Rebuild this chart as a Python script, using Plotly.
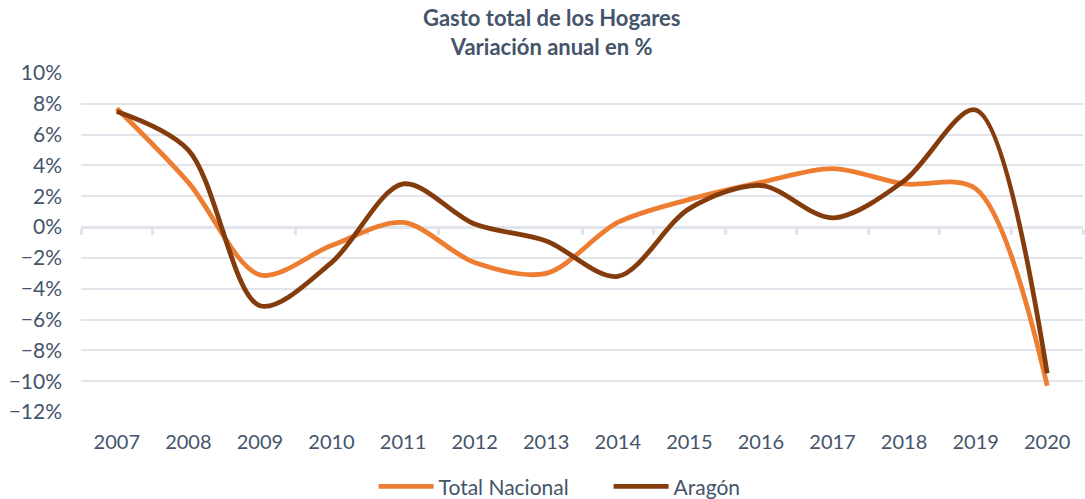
import plotly.graph_objects as go

years = ["2007", "2008", "2009", "2010", "2011", "2012", "2013",
         "2014", "2015", "2016", "2017", "2018", "2019", "2020"]
total_nacional = [7.7, 2.9, -3.1, -1.2, 0.3, -2.3, -3.0,
                  0.3, 1.8, 2.9, 3.8, 2.8, 2.5, -10.3]
aragon = [7.5, 5.0, -5.1, -2.3, 2.8, 0.2, -0.9,
          -3.2, 1.2, 2.7, 0.6, 3.0, 7.6, -9.5]

text_color = "#44546A"
grid_color = "#E1E5EB"
font_family = "Lato, 'Open Sans', sans-serif"

fig = go.Figure()
fig.add_trace(go.Scatter(
    x=years, y=total_nacional, name="Total Nacional", mode="lines",
    line=dict(color="#ED7D31", width=4.8, shape="spline", smoothing=0.9),
))
fig.add_trace(go.Scatter(
    x=years, y=aragon, name="Aragón", mode="lines",
    line=dict(color="#843C0C", width=4.8, shape="spline", smoothing=0.9),
))
# invisible trace so the zero-line category axis gets drawn
fig.add_trace(go.Scatter(
    x=years, y=total_nacional, xaxis="x2", mode="lines", opacity=0,
    showlegend=False, hoverinfo="skip",
))

fig.update_layout(
    width=1085, height=499,
    paper_bgcolor="white", plot_bgcolor="white",
    font=dict(family=font_family, size=20, color=text_color),
    margin=dict(l=81, r=2, t=73, b=87, autoexpand=False),
    annotations=[dict(
        text="<b>Gasto total de los Hogares<br>Variación anual en %</b>",
        xref="paper", yref="paper", x=0.47, y=1 + 41 / 339,
        xanchor="center", yanchor="middle", showarrow=False,
        font=dict(size=22, color=text_color),
    )],
    xaxis=dict(
        type="category", range=[-0.5, 13.5], showgrid=False, showline=False,
        ticks="outside", ticklen=12, tickcolor="rgba(0,0,0,0)",
        tickfont=dict(size=20, color=text_color),
    ),
    xaxis2=dict(
        type="category", overlaying="x", matches="x", anchor="free",
        position=12 / 22, side="bottom", showgrid=False, layer="below traces",
        showline=True, linecolor=grid_color, linewidth=3,
        ticks="outside", tickson="boundaries", ticklen=6, tickwidth=3,
        tickcolor=grid_color, showticklabels=False,
    ),
    yaxis=dict(
        range=[-12, 10], dtick=2, ticksuffix="%", showgrid=True,
        gridcolor=grid_color, gridwidth=1.5, zeroline=False, showline=False,
        ticklabelstandoff=18, layer="below traces",
        tickfont=dict(size=21, color=text_color),
    ),
    legend=dict(
        orientation="h", x=0.292, xanchor="left", y=-0.16, yanchor="top",
        itemwidth=55, entrywidth=165, font=dict(size=21, color=text_color),
    ),
)

fig.write_html("out.html", config={"displayModeBar": False},
               post_script="document.body.style.margin = '0';")
